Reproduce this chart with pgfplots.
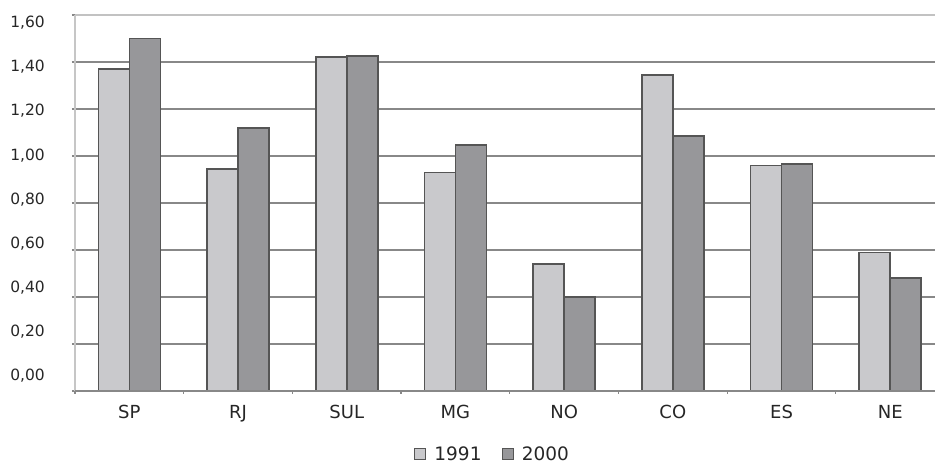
\documentclass[border=0pt]{standalone}
\usepackage{pgfplots}
\pgfplotsset{compat=1.18}
\usepackage{fontspec}
\setmainfont{DejaVu Sans}

\definecolor{barlight}{HTML}{C9C9CC}
\definecolor{bardark}{HTML}{97979A}
\definecolor{baredge}{HTML}{555555}
\definecolor{gridc}{HTML}{888888}
\definecolor{topc}{HTML}{C2C2C2}
\definecolor{axisc}{HTML}{C6C6C6}
\definecolor{labelc}{HTML}{262626}

\begin{document}
\begin{tikzpicture}
\useasboundingbox (0,0) rectangle (935pt,463pt);
\begin{axis}[
  at={(75pt,72pt)}, anchor=south west,
  scale only axis, width=860pt, height=376pt,
  xmin=-0.5, xmax=7.412, ymin=0, ymax=1.6,
  ybar=0pt, bar width=31pt,
  axis line style={draw=none},
  tick align=outside,
  xtick pos=bottom, ytick pos=left,
  major tick length=3pt, minor tick length=3pt,
  xtick={0,1,2,3,4,5,6,7},
  xticklabels={SP,RJ,SUL,MG,NO,CO,ES,NE},
  minor xtick={-0.5,0.5,1.5,2.5,3.5,4.5,5.5,6.5},
  major x tick style={draw=none},
  minor x tick style={draw=gridc, line width=1.2pt},
  ytick={0,0.2,0.4,0.6,0.8,1.0,1.2,1.4,1.6},
  y tick style={draw=gridc, line width=1.2pt},
  ymajorgrids,
  major grid style={draw=gridc, line width=1.6pt},
  /pgf/number format/assume math mode=true,
  yticklabel={\pgfmathprintnumber[fixed,fixed zerofill,precision=2,use comma]{\tick}},
  yticklabel style={font=\fontsize{15.5}{18}\selectfont, text=labelc, anchor=east,
    inner sep=0pt, xshift=-27pt, yshift={(15.3-2.9*\ticknum)*1pt}},
  xticklabel style={font=\fontsize{18}{21}\selectfont, text=labelc, anchor=base,
    inner sep=0pt, yshift=-25pt},
  legend style={at={(rel axis cs:0.4855,-0.1676)}, anchor=center, draw=none, fill=none,
    legend columns=2, font=\fontsize{18.5}{21}\selectfont, text=labelc,
    /tikz/every odd column/.append style={column sep=6pt},
    /tikz/every even column/.append style={column sep=18pt}},
  clip=false,
]
% year 1991
\addplot[fill=barlight, draw=baredge, line width=1.6pt,
  legend image code/.code={\draw[fill=barlight, draw=baredge, line width=1.3pt] (0pt,-5.5pt) rectangle (11pt,5.5pt);}]
  coordinates {(0,1.37) (1,0.945) (2,1.42) (3,0.93) (4,0.54) (5,1.345) (6,0.96) (7,0.59)};
% year 2000
\addplot[fill=bardark, draw=baredge, line width=1.6pt,
  legend image code/.code={\draw[fill=bardark, draw=baredge, line width=1.3pt] (0pt,-5.5pt) rectangle (11pt,5.5pt);}]
  coordinates {(0,1.50) (1,1.12) (2,1.425) (3,1.047) (4,0.40) (5,1.085) (6,0.967) (7,0.48)};
\legend{1991,2000}
% plot frame: lighter top rule, pale left axis, grey base line
\draw[topc, line width=1.6pt] (axis cs:-0.5,1.6) -- (axis cs:7.412,1.6);
\draw[axisc, line width=2.5pt] (axis cs:-0.5,0) -- (axis cs:-0.5,1.6);
\draw[gridc, line width=1.6pt] (axis cs:-0.5,0) -- (axis cs:7.412,0);
\end{axis}
\end{tikzpicture}
\end{document}
